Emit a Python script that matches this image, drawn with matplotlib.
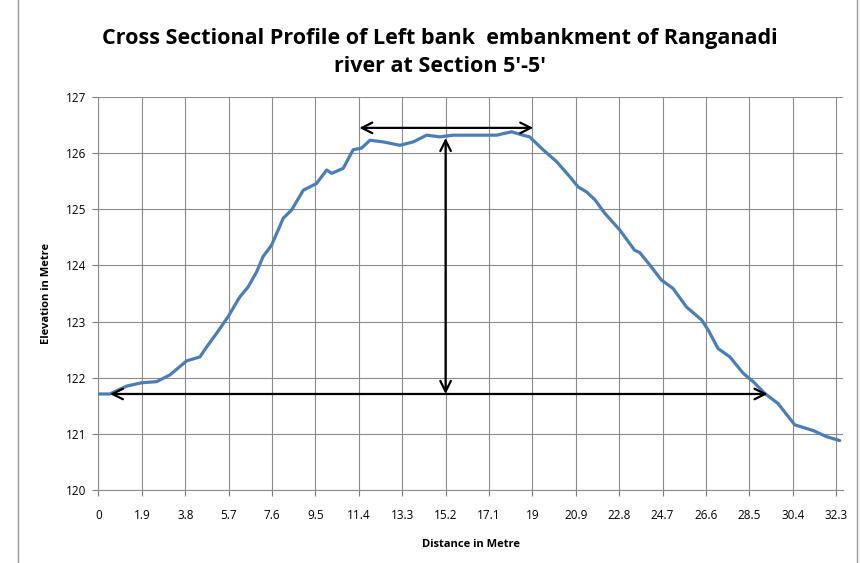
import matplotlib
matplotlib.use("Agg")
import matplotlib.pyplot as plt
from matplotlib.lines import Line2D

# profile (distance m, elevation m)
distance = [0.0, 0.5, 1.23, 1.89, 2.55, 3.13, 3.86, 4.44, 4.74, 5.17, 5.68,
            6.19, 6.56, 6.93, 7.21, 7.58, 8.09, 8.46, 8.97, 9.55, 9.99, 10.21,
            10.72, 11.15, 11.52, 11.89, 12.47, 13.2, 13.78, 14.37, 14.95,
            15.53, 17.43, 18.09, 18.59, 18.88, 19.47, 20.06, 20.64, 21.0,
            21.37, 21.74, 22.17, 22.83, 23.48, 23.70, 24.14, 24.65, 25.16,
            25.75, 26.41, 26.70, 27.13, 27.65, 28.23, 28.67, 29.18, 29.76,
            30.49, 31.29, 31.88, 32.46]
elevation = [121.71, 121.71, 121.85, 121.91, 121.93, 122.05, 122.30, 122.37,
             122.55, 122.79, 123.09, 123.44, 123.62, 123.89, 124.16, 124.36,
             124.84, 124.99, 125.34, 125.46, 125.70, 125.64, 125.73, 126.06,
             126.09, 126.23, 126.20, 126.14, 126.20, 126.32, 126.29, 126.32,
             126.32, 126.38, 126.32, 126.29, 126.06, 125.85, 125.58, 125.40,
             125.31, 125.17, 124.93, 124.63, 124.27, 124.23, 124.01, 123.74,
             123.59, 123.26, 123.03, 122.85, 122.52, 122.37, 122.08, 121.93,
             121.72, 121.54, 121.16, 121.06, 120.95, 120.88]

xticks = [0, 1.9, 3.8, 5.7, 7.6, 9.5, 11.4, 13.3, 15.2, 17.1, 19, 20.9,
          22.8, 24.7, 26.6, 28.5, 30.4, 32.3]
xtick_labels = ["0", "1.9", "3.8", "5.7", "7.6", "9.5", "11.4", "13.3",
                "15.2", "17.1", "19", "20.9", "22.8", "24.7", "26.6", "28.5",
                "30.4", "32.3"]
yticks = [120, 121, 122, 123, 124, 125, 126, 127]

# annotation arrows: (x0, y0, x1, y1)
base_arrow = (0.5, 121.71, 29.3, 121.71)
top_arrow = (11.42, 126.45, 19.04, 126.45)
height_arrow = (15.2, 126.27, 15.2, 121.71)

plt.rcParams["font.family"] = ["Open Sans", "DejaVu Sans"]

fig = plt.figure(figsize=(8.61, 5.63), dpi=100)
ax = fig.add_axes([0.1144, 0.1297, 0.979 - 0.1144, 0.8277 - 0.1297])

ax.plot(distance, elevation, color="#4A7EBB", lw=2.3, solid_capstyle="round",
        zorder=3)

for x0, y0, x1, y1 in (base_arrow, top_arrow, height_arrow):
    ax.annotate("", xy=(x0, y0), xytext=(x1, y1),
                arrowprops=dict(arrowstyle="<->", color="black", lw=1.6,
                                mutation_scale=19, shrinkA=0, shrinkB=0),
                zorder=4)

ax.set_xlim(0, 32.6)
ax.set_ylim(120, 127)
ax.set_xticks(xticks)
ax.set_xticklabels(xtick_labels, fontsize=8.5)
ax.set_yticks(yticks)
ax.set_yticklabels([str(v) for v in yticks], fontsize=8.5)
ax.grid(True, color="#8c8c8c", lw=0.8)
ax.set_axisbelow(True)
ax.tick_params(axis="both", colors="#7f7f7f", length=4, labelcolor="black")
ax.tick_params(axis="x", pad=10)
ax.tick_params(axis="y", pad=5)

for side in ("top", "right"):
    ax.spines[side].set_visible(False)
for side in ("left", "bottom"):
    ax.spines[side].set_color("#8c8c8c")

ax.set_xlabel("Distance in Metre", fontsize=8, fontweight="bold", labelpad=12)
ax.set_ylabel("Elevation in Metre", fontsize=8, fontweight="bold", labelpad=10)

fig.text(0.511, 0.907,
         "Cross Sectional Profile of Left bank  embankment of Ranganadi\n"
         "river at Section 5'-5'",
         ha="center", va="center", fontsize=15.5, fontweight="bold",
         linespacing=1.45)

# chart-area border edges
fig.add_artist(Line2D([0.021, 0.021], [0, 1], color="#9a9a9a", lw=1))
fig.add_artist(Line2D([0.995, 0.995], [0, 1], color="#9a9a9a", lw=1))

fig.savefig("out.png", dpi=100, facecolor="white")
